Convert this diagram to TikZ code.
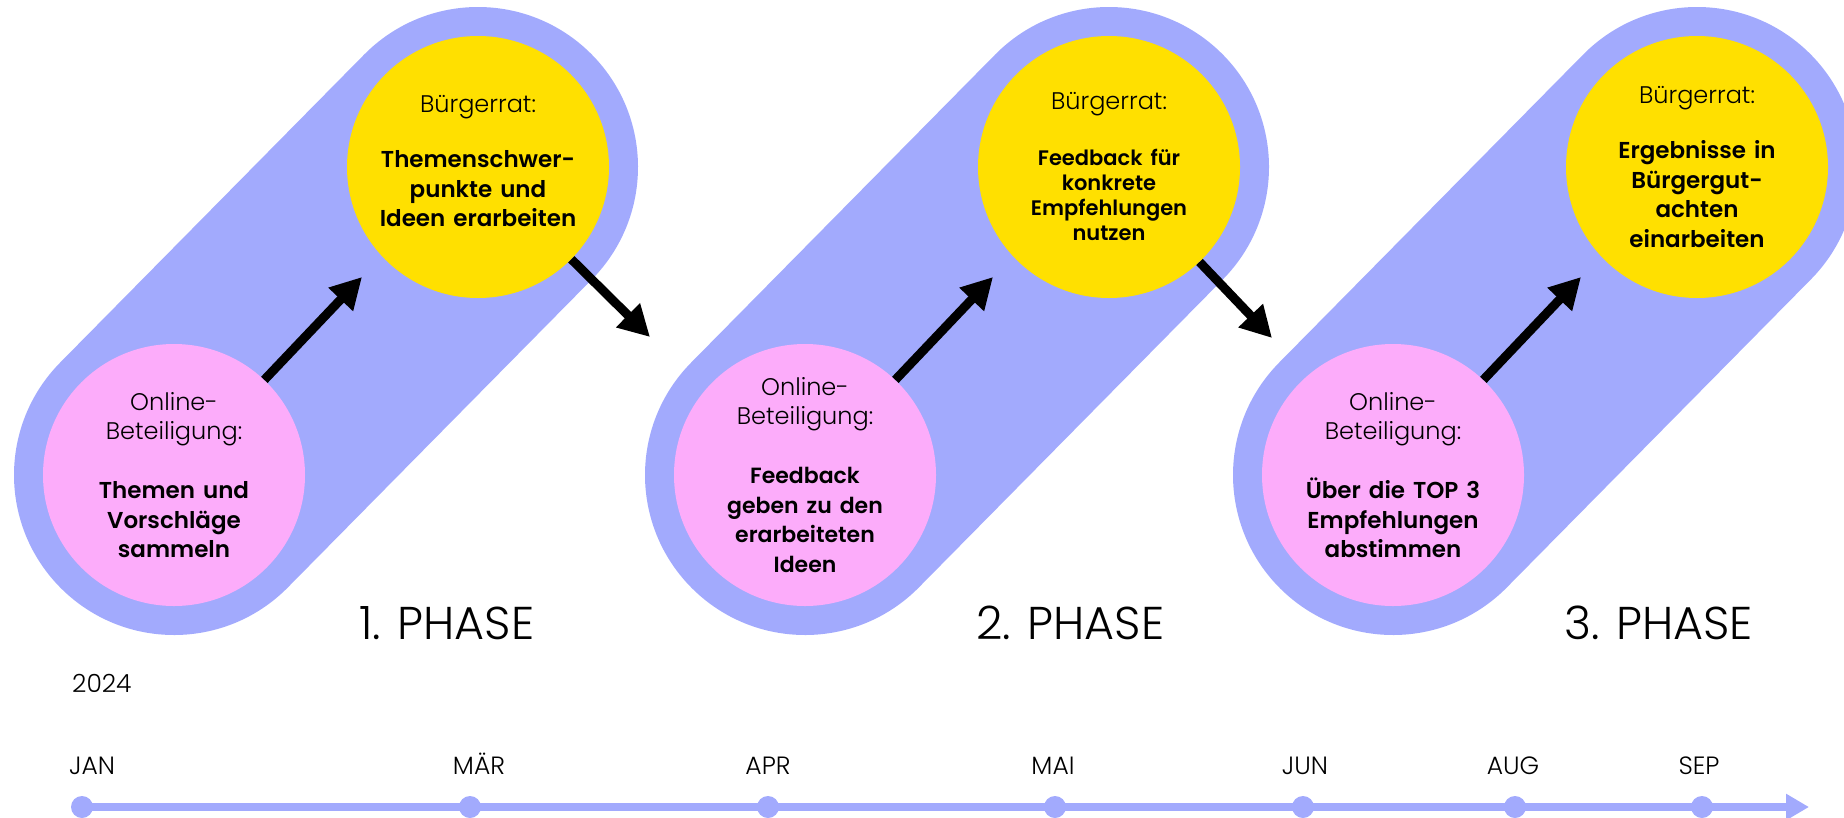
\documentclass[tikz,border=0pt]{standalone}
\usepackage{fontspec}
\setmainfont{Poppins}
\newfontfamily\plight{Poppins Light}
\newfontfamily\psemi{Poppins SemiBold}
\usetikzlibrary{arrows.meta}
\definecolor{capc}{RGB}{162,170,253}
\definecolor{pinkc}{RGB}{252,172,250}
\definecolor{yelc}{RGB}{255,224,0}
\tikzset{
  capsule/.style={line width=320pt, line cap=round, draw=capc},
  pinkcirc/.style={circle, fill=pinkc, minimum size=262pt, inner sep=0pt},
  yelcirc/.style={circle, fill=yelc, minimum size=262pt, inner sep=0pt},
  ctext/.style={align=center, text width=262pt, inner sep=0pt, font=\plight\fontsize{24}{29.5}\selectfont},
  bigarrow/.style={line width=9pt, draw=black, -{Triangle[length=31pt,width=32pt]}},
  phaselbl/.style={anchor=base west, inner sep=0pt, font=\plight\fontsize{46}{50}\selectfont},
  mlabel/.style={anchor=base, inner sep=0pt, font=\plight\fontsize{25}{30}\selectfont},
  tdot/.style={circle, fill=capc, minimum size=22pt, inner sep=0pt},
  tline/.style={line width=8pt, draw=capc, -{Triangle[length=23pt,width=25pt]}},
}
\newcommand{\bsel}{\psemi\fontsize{23}{29.5}\selectfont}
\begin{document}
\begin{tikzpicture}[x=1pt,y=-1pt]
\useasboundingbox (0,0) rectangle (1844,817);
\clip (0,0) rectangle (1844,817);
% centres
\coordinate (c1p) at (174,475);
\coordinate (c1y) at (478,167);
\coordinate (c2p) at (805,475);
\coordinate (c2y) at (1109,167);
\coordinate (c3p) at (1393,475);
\coordinate (c3y) at (1697,167);
% capsules
\draw[capsule] (c1p) -- (c1y);
\draw[capsule] (c2p) -- (c2y);
\draw[capsule] (c3p) -- (c3y);
% circles
\node[pinkcirc] (p1) at (c1p) {};
\node[yelcirc] (y1) at (c1y) {};
\node[pinkcirc] (p2) at (c2p) {};
\node[yelcirc] (y2) at (c2y) {};
\node[pinkcirc] (p3) at (c3p) {};
\node[yelcirc] (y3) at (c3y) {};
% texts
\node[ctext] (p1t) at (p1) {Online-\\Beteiligung:\\[29.5pt]{\bsel Themen und\\Vorschläge\\sammeln}};
\node[ctext, yshift=6pt] (y1t) at (y1) {Bürgerrat:\\[26pt]{\bsel Themenschwer-\\punkte und\\Ideen erarbeiten}};
\node[ctext] (p2t) at (p2) {Online-\\Beteiligung:\\[29.5pt]{\psemi\fontsize{22}{29.5}\selectfont Feedback\\geben zu den\\erarbeiteten\\Ideen}};
\node[ctext, font=\plight\fontsize{24}{25}\selectfont] (y2t) at (y2) {Bürgerrat:\\[31pt]{\psemi\fontsize{21}{25}\selectfont Feedback für\\konkrete\\Empfehlungen\\nutzen}};
\node[ctext] (p3t) at (p3) {Online-\\Beteiligung:\\[29.5pt]{\bsel Über die TOP 3\\Empfehlungen\\abstimmen}};
\node[ctext] (y3t) at (y3) {Bürgerrat:\\[26pt]{\bsel Ergebnisse in\\Bürgergut-\\achten\\einarbeiten}};
% arrows
\coordinate (t1) at (362,277);
\coordinate (t2) at (993,277);
\coordinate (t3) at (1581,277);
\coordinate (d1) at (650,337);
\coordinate (d2) at (1272,338);
\draw[bigarrow] (p1) -- (t1);
\draw[bigarrow] (p2) -- (t2);
\draw[bigarrow] (p3) -- (t3);
\draw[bigarrow] (y1) -- (d1);
\draw[bigarrow] (y2) -- (d2);
% phase labels
\node[phaselbl] (ph1) at (359,639) {1. PHASE};
\node[phaselbl] (ph2) at (976,639) {2. PHASE};
\node[phaselbl] (ph3) at (1564,639) {3. PHASE};
% timeline
\node[mlabel, anchor=base west] (yr) at (72,692) {2024};
\node[tdot] (m1) at (82,807) {};
\node[tdot] (m2) at (470,807) {};
\node[tdot] (m3) at (768,807) {};
\node[tdot] (m4) at (1055,807) {};
\node[tdot] (m5) at (1303,807) {};
\node[tdot] (m6) at (1515,807) {};
\node[tdot] (m7) at (1702,807) {};
\coordinate (tend) at (1809,807);
\draw[tline] (m1.center) -- (tend);
\node[mlabel] (l1) at (92,774) {JAN};
\node[mlabel] (l2) at (479,774) {MÄR};
\node[mlabel] (l3) at (768,774) {APR};
\node[mlabel] (l4) at (1053,774) {MAI};
\node[mlabel] (l5) at (1305,774) {JUN};
\node[mlabel] (l6) at (1513,774) {AUG};
\node[mlabel] (l7) at (1699,774) {SEP};
\end{tikzpicture}
\end{document}
